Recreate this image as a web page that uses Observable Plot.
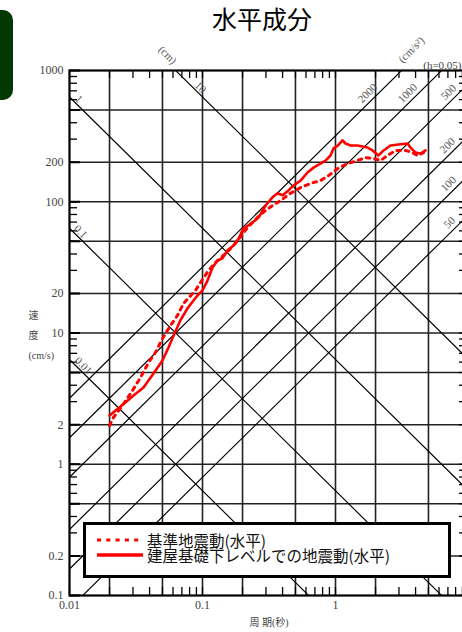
<!DOCTYPE html>
<html>
<head>
<meta charset="utf-8">
<script src="https://cdn.jsdelivr.net/npm/d3@7"></script>
<script src="https://cdn.jsdelivr.net/npm/@observablehq/plot@0.6"></script>
<style>
html,body{margin:0;padding:0;background:#fff;overflow:hidden;}
#wrap{position:relative;width:462px;height:632px;overflow:hidden;background:#fff;}
#green{position:absolute;left:-12px;top:10px;width:25px;height:90px;background:#033803;border-radius:10px;}
#chart{position:absolute;left:0;top:0;}
#title{position:absolute;left:0;top:0;width:524px;text-align:center;font-family:"Noto Sans CJK JP",sans-serif;font-size:25px;line-height:36px;color:#000;}
#legend{position:absolute;left:83px;top:522px;width:362px;height:50px;border:3px solid #000;background:#fff;}
#legend text{font-family:"Noto Sans CJK JP",sans-serif;font-size:15.5px;fill:#111;}
</style>
</head>
<body>
<div id="wrap">
  <div id="green"></div>
  <div id="chart"></div>
  <div id="title">水平成分</div>
  <div id="legend">
    <svg width="362" height="50">
      <line x1="11" x2="57" y1="15" y2="15" stroke="#ff0000" stroke-width="3" stroke-dasharray="4,5.3"></line>
      <line x1="11" x2="57" y1="30" y2="30" stroke="#ff0000" stroke-width="3.3"></line>
      <text x="61" y="15" dominant-baseline="central">基準地震動(水平)</text>
      <text x="61" y="30" dominant-baseline="central">建屋基礎下レベルでの地震動(水平)</text>
    </svg>
  </div>
</div>
<script>
// ---- data ----
const xTickValues = [0.01, 0.02, 0.05, 0.1, 0.2, 0.5, 1, 2, 5, 10];
const yTickValues = [0.1, 0.2, 0.5, 1, 2, 5, 10, 20, 50, 100, 200, 500, 1000];
const gridX = [0.02, 0.05, 0.1, 0.2, 0.5, 1, 2, 5];
const gridY = [0.2, 0.5, 1, 2, 5, 10, 20, 50, 100, 200, 500];

// displacement (cm) and acceleration (cm/s^2) iso-lines
const dispLevels = [0.01, 0.1, 1, 10];
const accelLevels = [50, 100, 200, 500, 1000, 2000];

const dispLabelText  = ["0.01", "0.1", "1", "10", "(cm)"];
const dispLabelLevel = [0.01, 0.1, 1, 10, 10];
const dispLabelT     = [0.0127, 0.0121, 0.0118, 0.0965, 0.0546];

const accelLabelText  = ["50", "100", "200", "500", "1000", "2000", "(cm/s²)"];
const accelLabelLevel = [50, 100, 200, 500, 1000, 2000, 2000];
const accelLabelT     = [7.19, 7.07, 6.94, 7.07, 3.48, 1.74, 3.72];

// 建屋基礎下レベルでの地震動(水平) (solid)
const T_solid = [0.02,0.0242,0.0303,0.036,0.0428,0.05,0.0555,0.0616,0.0683,0.0771,0.0856,0.0917,0.1,0.109,0.119,0.13,0.141,0.154,0.171,0.187,0.203,0.238,0.264,0.298,0.336,0.366,0.4,0.443,0.483,0.546,0.616,0.684,0.771,0.841,0.917,0.966,1.04,1.13,1.19,1.3,1.46,1.74,1.9,2.1,2.3,2.59,2.98,3.48,3.66,4.0,4.36,4.75];
const V_solid = [2.35,2.75,3.34,3.85,4.91,6.17,7.76,9.9,12.5,15.4,17.7,19.3,21.1,25.1,31.5,35.7,37.0,42.5,46.4,52.5,62.5,69.5,75.9,93.6,108,116,112,122,133,145,167,182,195,206,225,255,268,293,278,268,268,259,246,225,246,268,273,278,259,237,233,246];

// 基準地震動(水平) (dotted)
const T_dotted = [0.02,0.0214,0.025,0.0298,0.0342,0.0393,0.0443,0.05,0.0575,0.0649,0.072,0.0886,0.1,0.111,0.125,0.149,0.177,0.218,0.259,0.298,0.336,0.386,0.459,0.546,0.649,0.771,0.886,1.04,1.23,1.46,1.68,1.93,2.18,2.46,2.83,3.36,3.79,4.14,4.59];
const V_dotted = [1.97,2.27,2.80,3.65,4.58,5.96,7.10,9.08,11.4,13.6,16.8,21.1,25.6,29.9,34.4,40.3,48.1,63.6,75.9,85.8,93.6,102,116,128,138,145,158,179,195,206,217,214,206,225,246,246,237,225,237];

// ---- derived tables ----
const TWO_PI = 2 * Math.PI;
const tEnds = [0.01, 10];
const dispLines = dispLevels.flatMap(D => tEnds.map(T => ({D, T, V: TWO_PI * D / T})));
const accelLines = accelLevels.flatMap(A => tEnds.map(T => ({A, T, V: A * T / TWO_PI})));
const dispLabels = dispLabelText.map((text, i) => ({text, T: dispLabelT[i], V: TWO_PI * dispLabelLevel[i] / dispLabelT[i]}));
const accelLabels = accelLabelText.map((text, i) => ({text, T: accelLabelT[i], V: accelLabelLevel[i] * accelLabelT[i] / TWO_PI}));
const solid = T_solid.map((T, i) => ({T, V: V_solid[i]}));
const dotted = T_dotted.map((T, i) => ({T, V: V_dotted[i]}));

const minorY = d3.range(-1, 3).flatMap(k => d3.range(1, 10).map(m => m * Math.pow(10, k)));
const minorX = d3.range(-2, 1).flatMap(k => d3.range(1, 10).map(m => m * Math.pow(10, k)));

const W = 480, H = 632, mL = 69, mR = 12, mT = 70, mB = 37;
const plotW = W - mL - mR, plotH = H - mT - mB;
const serif = "Liberation Serif, Noto Sans CJK JP, serif";

const chart = Plot.plot({
  width: W, height: H,
  marginLeft: mL, marginRight: mR, marginTop: mT, marginBottom: mB,
  style: {fontFamily: serif, fontSize: "12px", background: "transparent", maxWidth: "none"},
  x: {type: "log", domain: [0.01, 10]},
  y: {type: "log", domain: [0.1, 1000]},
  marks: [
    // grid
    Plot.ruleX(gridX, {stroke: "#222", strokeWidth: 1.6}),
    Plot.ruleY(gridY, {stroke: "#222", strokeWidth: 1.6}),
    // tripartite lines
    Plot.line(dispLines, {x: "T", y: "V", z: "D", stroke: "#000", strokeWidth: 1.15, clip: true}),
    Plot.line(accelLines, {x: "T", y: "V", z: "A", stroke: "#000", strokeWidth: 1.15, clip: true}),
    // minor ticks
    Plot.tickY(minorY, {stroke: "#000", strokeWidth: 1.3, insetRight: plotW - 8}),
    Plot.tickY(yTickValues, {stroke: "#000", strokeWidth: 2, insetRight: plotW - 11}),
    Plot.tickY(minorY, {stroke: "#000", strokeWidth: 1.3, insetLeft: plotW - 9}),
    Plot.tickX(minorX, {stroke: "#000", strokeWidth: 1.3, insetBottom: plotH - 8}),
    Plot.tickX(minorX, {stroke: "#000", strokeWidth: 1.3, insetTop: plotH - 8}),
    // labels on iso-lines
    Plot.text(dispLabels, {x: "T", y: "V", text: "text", rotate: 45, dy: -7.5, fontSize: 11, fill: "#555", fontFamily: serif}),
    Plot.text(accelLabels, {x: "T", y: "V", text: "text", rotate: -45, dy: -11, fontSize: 11, fill: "#555", fontFamily: serif}),
    Plot.text(["(h=0.05)"], {frameAnchor: "top-right", dx: -7, dy: -9, textAnchor: "end", fontSize: 11, fill: "#444", fontFamily: serif}),
    // data
    Plot.line(dotted, {x: "T", y: "V", stroke: "#ff0000", strokeWidth: 3, strokeDasharray: "3.5,5", clip: true}),
    Plot.line(solid, {x: "T", y: "V", stroke: "#ff0000", strokeWidth: 2.6, clip: true}),
    // frame and axes
    Plot.frame({stroke: "#000", strokeWidth: 2.2}),
    Plot.axisY(yTickValues, {anchor: "left", tickSize: 0, tickPadding: 6, tickFormat: d => String(d), color: "#444", fontSize: 12, label: null}),
    Plot.axisX(xTickValues, {anchor: "bottom", tickSize: 0, tickPadding: 5, tickFormat: d => String(d), color: "#444", fontSize: 12, label: null}),
    Plot.text(["速\n度\n(cm/s)"], {frameAnchor: "left", dx: -41, lineHeight: 2.0, fontSize: 10, fill: "#444", fontFamily: serif}),
    Plot.text(["周 期(秒)"], {frameAnchor: "bottom", dy: 30, fontSize: 10, fill: "#444", fontFamily: serif})
  ]
});
document.getElementById("chart").appendChild(chart);
</script>
</body>
</html>
